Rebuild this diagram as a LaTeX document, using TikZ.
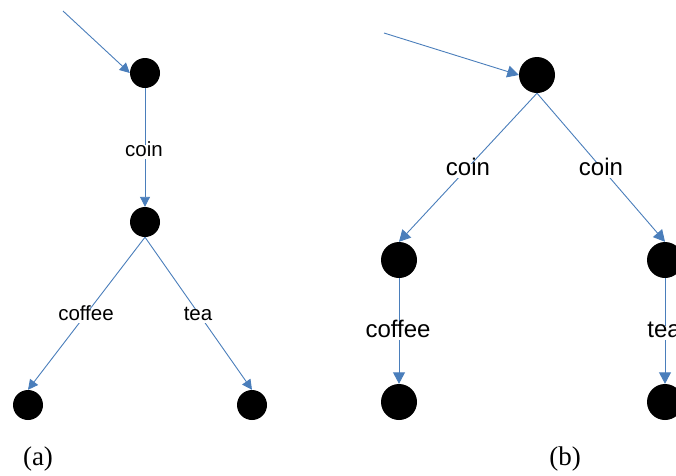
\documentclass[tikz,border=0pt]{standalone}
\usepackage{fontspec}
\setmainfont{Liberation Serif}
\newfontfamily\lsans{Liberation Sans}
\usetikzlibrary{arrows.meta}
\definecolor{edgeblue}{HTML}{4A7EBB}
\begin{document}
\begin{tikzpicture}[x=1pt,y=-1pt,
  stA/.style={circle, fill=black, inner sep=0pt, minimum size=30pt},
  stB/.style={circle, fill=black, inner sep=0pt, minimum size=36pt},
  arrA/.style={draw=edgeblue, line width=0.9pt, -{Triangle[length=10pt,width=10pt]}},
  arrB/.style={draw=edgeblue, line width=0.9pt, -{Triangle[length=11.5pt,width=12pt]}},
  lblA/.style={fill=white, font=\lsans\fontsize{20.5}{24}\selectfont, text height=1em, text depth=0.2em, inner xsep=2pt, inner ysep=1pt, anchor=base},
  lblB/.style={fill=white, font=\lsans\fontsize{24}{28}\selectfont, text height=1em, text depth=0.2em, inner xsep=2pt, inner ysep=1pt, anchor=base},
  captext/.style={font=\fontsize{27}{30}\selectfont, inner sep=0pt, anchor=base}]
\useasboundingbox (0,0) rectangle (676,475);
\clip (0,0) rectangle (676,475);
% (a)
\coordinate (sa) at (63,11);
\node[stA] (a1) at (145,73) {};
\node[stA] (a2) at (145,222) {};
\node[stA] (a3) at (28,405) {};
\node[stA] (a4) at (252,405) {};
\draw[arrA] (sa) -- (a1.west);
\draw[arrA] (a1.south) -- (a2.north);
\draw[arrA] (a2.south) -- (a3.north);
\draw[arrA] (a2.south) -- (a4.north);
\node[lblA] (la1) at (144,156) {coin};
\node[lblA] (la2) at (86,320) {coffee};
\node[lblA] (la3) at (198,320) {tea};
\node[captext] (capa) at (38,465) {(a)};
% (b)
\coordinate (sb) at (384,33);
\node[stB] (b0) at (537,75) {};
\node[stB] (b1) at (399,260) {};
\node[stB] (b2) at (665,260) {};
\node[stB] (b3) at (399,402) {};
\node[stB] (b4) at (665,402) {};
\draw[arrB] (sb) -- (b0.west);
\draw[arrB] (b0.south) -- (b1.north);
\draw[arrB] (b0.south) -- (b2.north);
\draw[arrB] (b1.south) -- (b3.north);
\draw[arrB] (b2.south) -- (b4.north);
\node[lblB] (lb1) at (468,175) {coin};
\node[lblB] (lb2) at (601,175) {coin};
\node[lblB] (lb3) at (398,337) {coffee};
\node[lblB] (lb4) at (664,337) {tea};
\node[captext] (capb) at (565,465) {(b)};
\end{tikzpicture}
\end{document}
